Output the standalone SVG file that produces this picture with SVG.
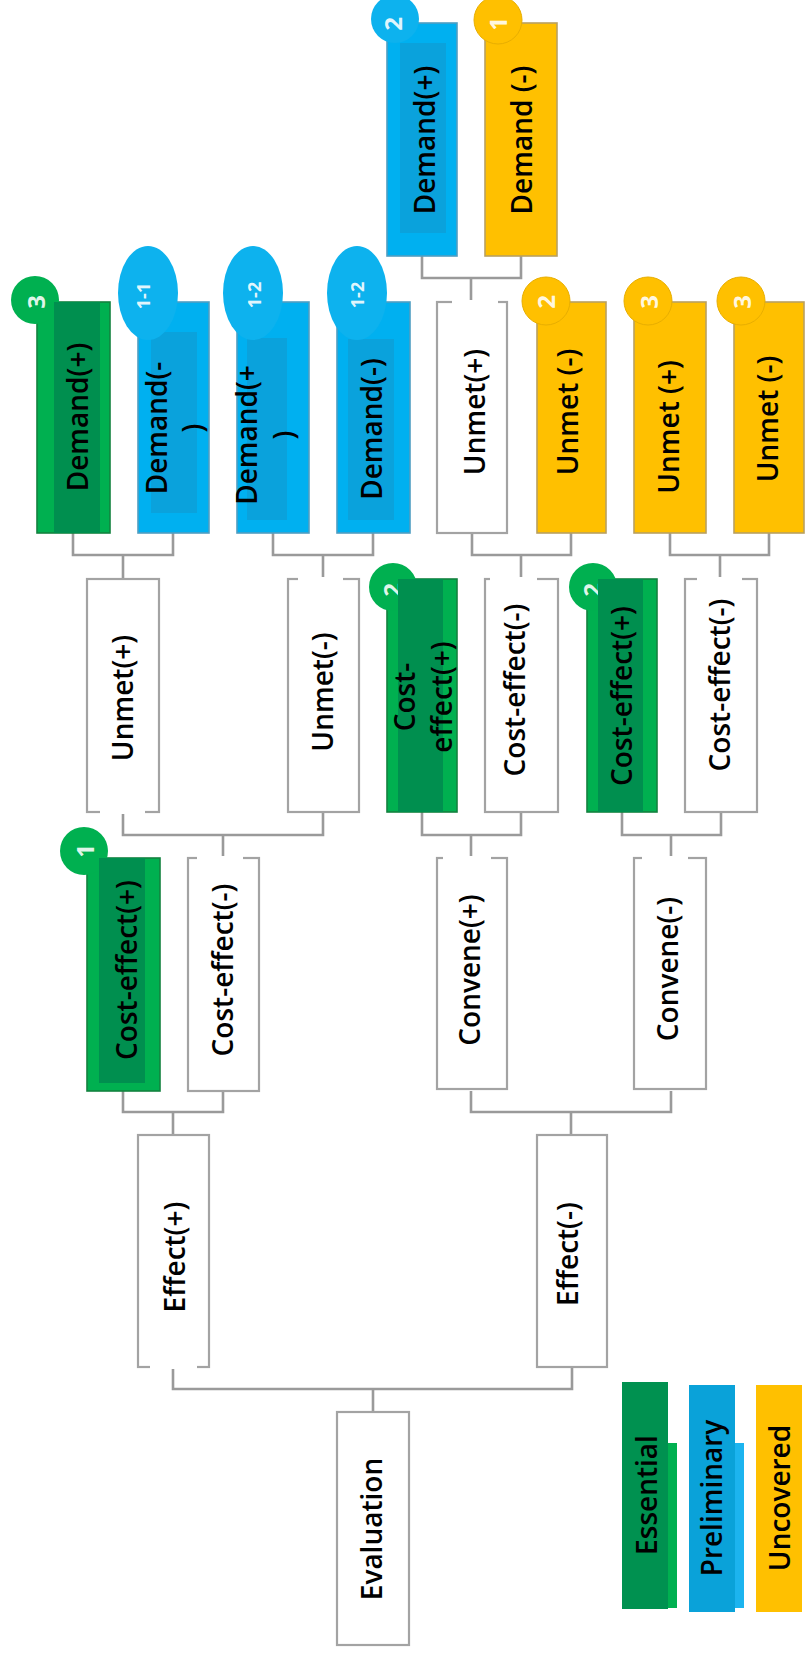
<svg xmlns="http://www.w3.org/2000/svg" width="805" height="1659" viewBox="0 0 805 1659">
  <defs>
    <style>
      .bw { fill: #ffffff; stroke: #a3a3a3; stroke-width: 2.2; }
      .bb { fill: #00b0f0; stroke: #4f9ec2; stroke-width: 1.6; }
      .bbi { fill: #0aa2dc; }
      .by { fill: #ffc000; stroke: #b9a060; stroke-width: 1.6; }
      .bg { fill: #00b050; stroke: #13823f; stroke-width: 1.6; }
      .bgi { fill: #008f4f; }
      .gap { fill: #ffffff; }
      .cb { fill: #0db2ee; }
      .cy { fill: #ffc000; stroke: #e8ae00; stroke-width: 1; }
      .cg { fill: #00b050; }
      .lbl { font-family: "Open Sans", "Liberation Sans", sans-serif; font-weight: 600; font-size: 28px; fill: #000000; text-anchor: middle; }
      .num { font-family: "Open Sans", "Liberation Sans", sans-serif; font-weight: 700; font-size: 24px; fill: #ffffff; fill-opacity: 0.9; text-anchor: middle; }
      .num-s { font-size: 18px; }
      .conn { fill: none; stroke: #9a9a9a; stroke-width: 2.6; }
    </style>
  </defs>

  <rect width="805" height="1659" fill="#ffffff"/>

  <!-- tree connectors -->
  <g id="connectors" class="conn">
    <path d="M422 256 V278 H521 V256 M471 278 V302"/>
    <path d="M73 533 V555 H173 V533 M123 555 V579"/>
    <path d="M273 533 V555 H373 V533 M323 555 V579"/>
    <path d="M472 533 V555 H571 V533 M521 555 V579"/>
    <path d="M670 533 V555 H769 V533 M720 555 V579"/>
    <path d="M123 812 V835 H323 V812 M223 835 V858"/>
    <path d="M422 812 V835 H521 V812 M471 835 V858"/>
    <path d="M622 812 V835 H721 V812 M671 835 V858"/>
    <path d="M123 1091 V1112 H223 V1091 M173 1112 V1135"/>
    <path d="M471 1091 V1112 H671 V1091 M571 1112 V1135"/>
    <path d="M173 1367 V1389 H572 V1367 M373 1389 V1412"/>
  </g>

  <!-- top row -->
  <g id="demand-plus-top">
    <rect class="bb" x="387" y="23" width="70" height="233"/>
    <circle class="cb" cx="395" cy="19" r="24"/>
    <text class="num" transform="translate(402,24) rotate(-90)">2</text>
    <rect class="bbi" x="400" y="43" width="46" height="190"/>
    <text class="lbl" transform="translate(435,140) rotate(-90)">Demand(+)</text>
  </g>
  <g id="demand-minus-top">
    <rect class="by" x="485" y="23" width="72" height="233"/>
    <circle class="cy" cx="498" cy="20" r="24"/>
    <text class="num" transform="translate(507,24) rotate(-90)">1</text>
    <text class="lbl" transform="translate(532,140) rotate(-90)">Demand (-)</text>
  </g>

  <!-- second row -->
  <g id="demand-plus-3">
    <rect class="bg" x="37" y="302" width="73" height="231"/>
    <circle class="cg" cx="35" cy="300" r="24"/>
    <text class="num" transform="translate(45,302) rotate(-90)">3</text>
    <rect class="bgi" x="54" y="302" width="46" height="231"/>
    <text class="lbl" transform="translate(88,417) rotate(-90)">Demand(+)</text>
  </g>
  <g id="demand-minus-1-1">
    <rect class="bb" x="138" y="302" width="71" height="231"/>
    <rect class="bbi" x="151" y="332" width="46" height="181"/>
    <ellipse class="cb" cx="148" cy="293" rx="30" ry="47"/>
    <text class="num num-s" transform="translate(150,296) rotate(-90)">1-1</text>
    <text class="lbl" transform="translate(167,428) rotate(-90)">Demand(-<tspan x="0" dy="36">)</tspan></text>
  </g>
  <g id="demand-plus-1-2">
    <rect class="bb" x="237" y="302" width="72" height="231"/>
    <rect class="bbi" x="247" y="338" width="40" height="182"/>
    <ellipse class="cb" cx="253" cy="293" rx="30" ry="47"/>
    <text class="num num-s" transform="translate(261,295) rotate(-90)">1-2</text>
    <text class="lbl" transform="translate(257,435) rotate(-90)">Demand(+<tspan x="0" dy="37">)</tspan></text>
  </g>
  <g id="demand-minus-1-2">
    <rect class="bb" x="337" y="302" width="73" height="231"/>
    <rect class="bbi" x="348" y="339" width="46" height="181"/>
    <ellipse class="cb" cx="357" cy="293" rx="30" ry="47"/>
    <text class="num num-s" transform="translate(364,295) rotate(-90)">1-2</text>
    <text class="lbl" transform="translate(382,429) rotate(-90)">Demand(-)</text>
  </g>
  <g id="unmet-plus-top">
    <rect class="bw" x="437" y="302" width="70" height="231"/>
    <rect class="gap" x="452" y="300" width="46" height="4"/>
    <text class="lbl" transform="translate(485,412) rotate(-90)">Unmet(+)</text>
  </g>
  <g id="unmet-minus-2">
    <rect class="by" x="537" y="302" width="69" height="231"/>
    <circle class="cy" cx="546" cy="301" r="24"/>
    <text class="num" transform="translate(555,302) rotate(-90)">2</text>
    <text class="lbl" transform="translate(578,412) rotate(-90)">Unmet (-)</text>
  </g>
  <g id="unmet-plus-3">
    <rect class="by" x="634" y="302" width="72" height="231"/>
    <circle class="cy" cx="648" cy="301" r="24"/>
    <text class="num" transform="translate(658,302) rotate(-90)">3</text>
    <text class="lbl" transform="translate(679,427) rotate(-90)">Unmet (+)</text>
  </g>
  <g id="unmet-minus-3">
    <rect class="by" x="734" y="302" width="70" height="231"/>
    <circle class="cy" cx="741" cy="301" r="24"/>
    <text class="num" transform="translate(751,302) rotate(-90)">3</text>
    <text class="lbl" transform="translate(778,419) rotate(-90)">Unmet (-)</text>
  </g>

  <!-- third row -->
  <g id="unmet-plus">
    <rect class="bw" x="87" y="579" width="72" height="233"/>
    <rect class="gap" x="100" y="810" width="45" height="4"/>
    <text class="lbl" transform="translate(133,698) rotate(-90)">Unmet(+)</text>
  </g>
  <g id="unmet-minus">
    <rect class="bw" x="288" y="579" width="71" height="233"/>
    <rect class="gap" x="298" y="577" width="45" height="4"/>
    <text class="lbl" transform="translate(333,692) rotate(-90)">Unmet(-)</text>
  </g>
  <g id="cost-effect-plus-a">
    <rect class="bg" x="387" y="579" width="70" height="233"/>
    <circle class="cg" cx="393" cy="587" r="24"/>
    <text class="num" transform="translate(401,590) rotate(-90)">2</text>
    <rect class="bgi" x="398" y="579" width="45" height="233"/>
    <text class="lbl" transform="translate(415,697) rotate(-90)">Cost-<tspan x="0" dy="37">effect(+)</tspan></text>
  </g>
  <g id="cost-effect-minus-a">
    <rect class="bw" x="485" y="579" width="73" height="233"/>
    <rect class="gap" x="490" y="577" width="47" height="4"/>
    <text class="lbl" transform="translate(525,690) rotate(-90)">Cost-effect(-)</text>
  </g>
  <g id="cost-effect-plus-b">
    <rect class="bg" x="587" y="579" width="70" height="233"/>
    <circle class="cg" cx="593" cy="587" r="24"/>
    <text class="num" transform="translate(601,590) rotate(-90)">2</text>
    <rect class="bgi" x="598" y="579" width="45" height="233"/>
    <text class="lbl" transform="translate(632,696) rotate(-90)">Cost-effect(+)</text>
  </g>
  <g id="cost-effect-minus-b">
    <rect class="bw" x="685" y="579" width="72" height="233"/>
    <rect class="gap" x="697" y="577" width="45" height="4"/>
    <text class="lbl" transform="translate(730,685) rotate(-90)">Cost-effect(-)</text>
  </g>

  <!-- fourth row -->
  <g id="cost-effect-plus">
    <rect class="bg" x="87" y="858" width="73" height="233"/>
    <circle class="cg" cx="84" cy="851" r="24"/>
    <text class="num" transform="translate(94,851) rotate(-90)">1</text>
    <rect class="bgi" x="99" y="858" width="46" height="225"/>
    <text class="lbl" transform="translate(137,970) rotate(-90)">Cost-effect(+)</text>
  </g>
  <g id="cost-effect-minus">
    <rect class="bw" x="188" y="858" width="71" height="233"/>
    <rect class="gap" x="197" y="856" width="46" height="4"/>
    <text class="lbl" transform="translate(233,970) rotate(-90)">Cost-effect(-)</text>
  </g>
  <g id="convene-plus">
    <rect class="bw" x="437" y="858" width="70" height="231"/>
    <rect class="gap" x="443" y="856" width="48" height="4"/>
    <text class="lbl" transform="translate(480,970) rotate(-90)">Convene(+)</text>
  </g>
  <g id="convene-minus">
    <rect class="bw" x="634" y="858" width="72" height="231"/>
    <rect class="gap" x="642" y="856" width="46" height="4"/>
    <text class="lbl" transform="translate(678,969) rotate(-90)">Convene(-)</text>
  </g>

  <!-- fifth row -->
  <g id="effect-plus">
    <rect class="bw" x="138" y="1135" width="71" height="232"/>
    <rect class="gap" x="150" y="1365" width="47" height="4"/>
    <text class="lbl" transform="translate(185,1257) rotate(-90)">Effect(+)</text>
  </g>
  <g id="effect-minus">
    <rect class="bw" x="537" y="1135" width="70" height="232"/>
    <text class="lbl" transform="translate(578,1254) rotate(-90)">Effect(-)</text>
  </g>

  <!-- root -->
  <g id="evaluation">
    <rect class="bw" x="337" y="1412" width="72" height="233"/>
    <text class="lbl" transform="translate(382,1529) rotate(-90)">Evaluation</text>
  </g>

  <!-- legend -->
  <g id="legend-essential">
    <rect x="660" y="1443" width="17" height="165" fill="#00b050"/>
    <rect x="622" y="1382" width="46" height="227" fill="#009150"/>
    <text class="lbl" transform="translate(657,1495) rotate(-90)">Essential</text>
  </g>
  <g id="legend-preliminary">
    <rect x="728" y="1443" width="16" height="165" fill="#1cb4ef"/>
    <rect x="689" y="1385" width="46" height="227" fill="#0aa2d9"/>
    <text class="lbl" transform="translate(722,1498) rotate(-90)">Preliminary</text>
  </g>
  <g id="legend-uncovered">
    <rect x="756" y="1385" width="46" height="227" fill="#ffc000"/>
    <text class="lbl" transform="translate(790,1498) rotate(-90)">Uncovered</text>
  </g>
</svg>
